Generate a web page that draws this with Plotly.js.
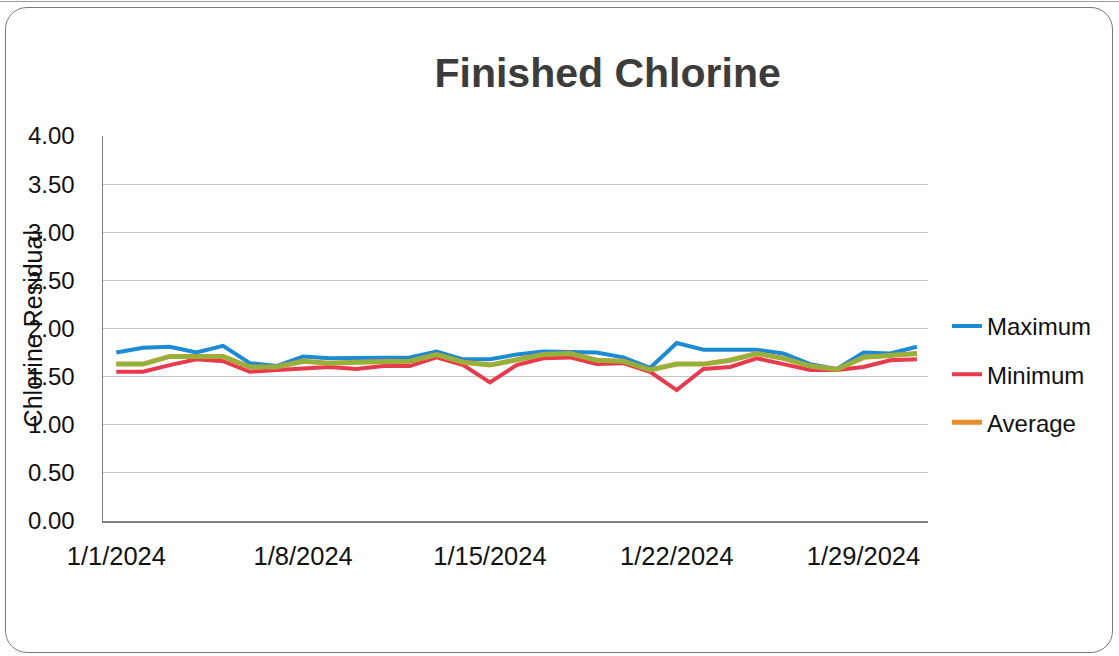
<!DOCTYPE html>
<html>
<head>
<meta charset="utf-8">
<script src="https://cdn.plot.ly/plotly-3.0.1.min.js"></script>
<style>
  html, body { margin: 0; padding: 0; background: #ffffff; }
  #wrap { position: relative; width: 1119px; height: 656px; overflow: hidden; }
  #chart { width: 1119px; height: 656px; }
  #frame { position: absolute; left: 5px; top: 7px; width: 1106px; height: 644px;
           border: 1.5px solid #7a7a7a; border-radius: 22px; pointer-events: none; }
  #edge { position: absolute; left: 0; top: 1px; width: 1119px; height: 0;
          border-top: 1px solid #9a9a9a; pointer-events: none; }
</style>
</head>
<body>
<div id="wrap">
  <div id="chart"></div>
  <div id="frame"></div>
  <div id="edge"></div>
</div>
<script>
// ---- data ----
const dates = [
  '2024-01-01','2024-01-02','2024-01-03','2024-01-04','2024-01-05','2024-01-06','2024-01-07',
  '2024-01-08','2024-01-09','2024-01-10','2024-01-11','2024-01-12','2024-01-13','2024-01-14',
  '2024-01-15','2024-01-16','2024-01-17','2024-01-18','2024-01-19','2024-01-20','2024-01-21',
  '2024-01-22','2024-01-23','2024-01-24','2024-01-25','2024-01-26','2024-01-27','2024-01-28',
  '2024-01-29','2024-01-30','2024-01-31'
];
const maximum = [1.75,1.80,1.81,1.75,1.82,1.64,1.61,1.71,1.69,1.69,1.70,1.70,1.76,1.68,1.68,
                 1.73,1.76,1.76,1.75,1.70,1.59,1.85,1.78,1.78,1.78,1.74,1.63,1.58,1.75,1.74,1.81];
const minimum = [1.55,1.55,1.62,1.68,1.66,1.55,1.57,1.59,1.60,1.58,1.61,1.61,1.70,1.62,1.44,
                 1.62,1.69,1.70,1.63,1.64,1.55,1.36,1.58,1.60,1.69,1.63,1.57,1.57,1.60,1.67,1.68];
const average = [1.63,1.63,1.71,1.71,1.71,1.60,1.60,1.66,1.64,1.65,1.65,1.66,1.73,1.65,1.62,
                 1.67,1.73,1.74,1.67,1.66,1.57,1.63,1.63,1.67,1.74,1.69,1.61,1.575,1.70,1.72,1.74];
const tickDates = ['2024-01-01','2024-01-08','2024-01-15','2024-01-22','2024-01-29'];
const tickLabels = ['1/1/2024','1/8/2024','1/15/2024','1/22/2024','1/29/2024'];
const yTicks = [0,0.5,1,1.5,2,2.5,3,3.5,4];

const FONT = 'Liberation Sans, Arial, sans-serif';

const traces = [
  {x: dates, y: maximum, name: 'Maximum', type: 'scatter', mode: 'lines',
   line: {color: '#1b8bd3', width: 4}, legendgroup: 'a'},
  {x: dates, y: minimum, name: 'Minimum', type: 'scatter', mode: 'lines',
   line: {color: '#e63a4d', width: 4}, legendgroup: 'b'},
  {x: dates, y: average, name: 'Average', type: 'scatter', mode: 'lines',
   line: {color: '#e88b2a', width: 5}, legendgroup: 'c'},
  {x: dates, y: average, name: 'Average', type: 'scatter', mode: 'lines',
   line: {color: '#8fb43c', width: 4}, showlegend: false, legendgroup: 'c'}
];

const layout = {
  width: 1119, height: 656,
  paper_bgcolor: 'rgba(0,0,0,0)', plot_bgcolor: '#ffffff',
  margin: {l: 103, r: 191, t: 136, b: 135},
  font: {family: FONT, color: '#111111', size: 24},
  title: {text: 'Finished Chlorine', x: 0.543, xref: 'container', xanchor: 'center',
          y: 0.889, yref: 'container', yanchor: 'middle',
          font: {family: FONT, size: 41, color: '#3c3c3c', weight: 'bold'}},
  showlegend: true,
  legend: {x: 1.023, xanchor: 'left', y: 0.564, yanchor: 'top',
           font: {family: FONT, size: 24, color: '#111111'},
           tracegroupgap: 14, bgcolor: 'rgba(0,0,0,0)'},
  xaxis: {type: 'date', range: ['2023-12-31 12:00', '2024-01-31 10:00'],
          tickmode: 'array', tickvals: tickDates, ticktext: tickLabels,
          showgrid: false, zeroline: false, showline: true, linecolor: '#7f7f7f', linewidth: 1.5,
          ticks: 'outside', ticklen: 12, tickcolor: 'rgba(0,0,0,0)',
          tickfont: {family: FONT, size: 25.5, color: '#111111'}, fixedrange: true},
  yaxis: {range: [0, 4], tickmode: 'array', tickvals: yTicks, tickformat: '.2f',
          showgrid: true, gridcolor: '#c4c4c4', gridwidth: 1,
          zeroline: false, showline: true, linecolor: '#7f7f7f', linewidth: 1.5,
          ticks: 'outside', ticklen: 22, tickcolor: 'rgba(0,0,0,0)',
          tickfont: {family: FONT, size: 24, color: '#111111'}, fixedrange: true},
  annotations: [
    {text: 'Chlorine Residual', xref: 'paper', yref: 'paper', x: -0.085, y: 0.5,
     xanchor: 'center', yanchor: 'middle', textangle: -90, showarrow: false,
     font: {family: FONT, size: 25, color: '#111111'}}
  ]
};

Plotly.newPlot('chart', traces, layout, {displayModeBar: false, staticPlot: true});
</script>
</body>
</html>
